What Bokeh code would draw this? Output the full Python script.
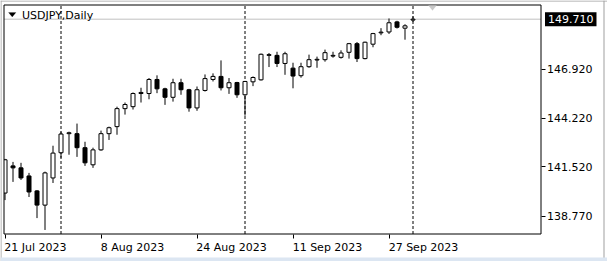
import pandas as pd
from bokeh.plotting import figure
from bokeh.models import (ColumnDataSource, Range1d, FixedTicker, Label, BoxAnnotation,
                          PrintfTickFormatter, PolyAnnotation, LinearAxis)
from bokeh.embed import file_html
from bokeh.resources import INLINE

# ---- data (USDJPY daily) ----
dates = pd.bdate_range("2023-07-21", "2023-10-02")
opens = [140.05, 141.56, 141.45, 141.00, 140.17, 139.38, 140.89, 142.29, 143.35, 143.35,
         142.57, 141.62, 142.45, 143.35, 143.74, 144.74, 144.85, 145.58, 145.58, 146.36,
         145.84, 145.37, 146.18, 145.79, 144.78, 145.75, 146.36, 146.53, 145.90, 146.19,
         145.51, 146.23, 146.34, 147.70, 147.70, 147.25, 146.99, 146.57, 147.07, 147.44,
         147.46, 147.66, 147.59, 147.87, 148.35, 147.52, 148.32, 148.95, 149.00, 149.56,
         149.21, 149.66]
highs = [141.95, 141.78, 141.73, 141.17, 140.22, 141.24, 142.68, 143.46, 143.46, 143.91,
         142.90, 142.57, 143.52, 143.74, 144.85, 145.08, 145.64, 145.90, 146.44, 146.59,
         145.90, 146.40, 146.40, 145.84, 145.97, 146.64, 146.70, 147.42, 146.44, 146.23,
         146.28, 146.53, 147.80, 147.83, 147.90, 147.90, 147.29, 147.29, 147.74, 147.63,
         148.02, 147.90, 147.98, 148.39, 148.44, 148.46, 148.95, 149.21, 149.75, 149.62,
         149.43, 149.86]
lows = [139.66, 140.67, 140.78, 139.83, 138.66, 138.00, 140.61, 142.01, 142.18, 142.06,
        141.56, 141.45, 142.40, 143.00, 143.29, 144.41, 144.69, 145.08, 145.26, 145.60,
        144.95, 145.13, 145.51, 144.57, 144.62, 145.69, 146.25, 145.75, 145.56, 145.34,
        144.35, 145.99, 146.30, 147.05, 147.05, 146.62, 145.87, 146.46, 147.01, 147.01,
        147.35, 147.57, 147.52, 147.52, 147.33, 147.48, 148.15, 148.82, 148.89, 149.19,
        148.57, 149.56]
closes = [141.90, 141.45, 140.89, 140.11, 139.38, 141.17, 142.27, 143.33, 143.40, 142.57,
          141.73, 142.45, 143.35, 143.68, 144.74, 144.97, 145.58, 145.64, 146.36, 145.84,
          145.37, 146.18, 145.79, 144.78, 145.79, 146.41, 146.53, 145.90, 146.18, 145.51,
          146.25, 146.47, 147.76, 147.74, 147.25, 147.79, 146.55, 147.07, 147.46, 147.48,
          147.85, 147.70, 147.83, 148.35, 147.52, 148.43, 148.91, 148.99, 149.51, 149.26,
          149.34, 149.71]
price_ticks = [138.77, 141.52, 144.22, 146.92]
bid = 149.71
symbol_title = "USDJPY,Daily"

# ---- geometry (pixel <-> data helpers for the window layout) ----
W, H = 607, 261
PX_PER_BAR = 8.0
X0 = -4.5 / PX_PER_BAR            # data x at canvas px 0
X1 = X0 + W / PX_PER_BAR
PX_PER_PRICE = 18.0
Y1 = 144.22 + 117.5 / PX_PER_PRICE  # data y at canvas px 0 (top)
Y0 = Y1 - H / PX_PER_PRICE


def px2x(px):
    return X0 + px / PX_PER_BAR


def x2px(x):
    return (x - X0) * PX_PER_BAR


def py2y(py):
    return Y1 - py / PX_PER_PRICE


BOX_L, BOX_R, BOX_T, BOX_B = 3.5, 540.5, 4.5, 233.5

idx = list(range(len(dates)))
src = ColumnDataSource(dict(
    x=idx, high=highs, low=lows,
    top=[max(o, c) for o, c in zip(opens, closes)],
    bottom=[min(o, c) for o, c in zip(opens, closes)],
    fill=["white" if c >= o else "black" for o, c in zip(opens, closes)],
))

p = figure(width=W, height=H, output_backend="svg", toolbar_location=None,
           x_range=Range1d(X0, X1), y_range=Range1d(Y0, Y1),
           x_axis_type=None, y_axis_type=None,
           min_border_left=0, min_border_right=0, min_border_top=0, min_border_bottom=0)
p.title.visible = False
p.background_fill_color = "white"
p.border_fill_color = "white"
p.outline_line_color = None
p.grid.visible = False
p.extra_x_ranges = {"px": Range1d(0, W)}

# month separators
sep = [i for i in range(1, len(dates)) if dates[i].month != dates[i - 1].month]
p.segment(x0=sep, x1=sep, y0=[py2y(BOX_B)] * len(sep), y1=[py2y(BOX_T)] * len(sep),
          line_color="black", line_width=1, line_dash="3 2", level="underlay")
# bid line
p.segment(x0=[px2x(BOX_L)], x1=[px2x(BOX_R)], y0=[bid], y1=[bid],
          line_color="#c0c0c0", line_width=1, level="underlay")

p.segment(x0="x", y0="high", x1="x", y1="low", source=src, line_color="black", line_width=1)
p.vbar(x="x", width=0.5, top="top", bottom="bottom", source=src,
       fill_color="fill", line_color="black", line_width=1)

# price axis (right)
ya = LinearAxis(fixed_location=px2x(BOX_R))
ya.ticker = FixedTicker(ticks=price_ticks)
ya.formatter = PrintfTickFormatter(format="%.3f")
ya.minor_tick_line_color = None
ya.major_tick_in = 0
ya.major_tick_out = 4
ya.major_label_standoff = 2
ya.major_label_text_font = "DejaVu Sans"
ya.major_label_text_font_size = "11px"
ya.major_label_text_color = "black"
ya.axis_line_color = None
p.add_layout(ya, "right")

# time axis (below): tick marks at the bars
xt = list(range(0, len(dates), 12))
xa = LinearAxis(fixed_location=py2y(BOX_B))
xa.ticker = FixedTicker(ticks=xt)
xa.major_label_overrides = {i: "" for i in xt}
xa.minor_tick_line_color = None
xa.major_tick_in = 0
xa.major_tick_out = 4
xa.axis_line_color = None
p.add_layout(xa, "below")

# time labels start at their tick, as in the terminal
CW = {"0": .636, "1": .636, "2": .636, "3": .636, "4": .636, "5": .636, "6": .636,
      "7": .636, "8": .636, "9": .636, " ": .318, "J": .295, "u": .634, "l": .278,
      "A": .684, "g": .635, "S": .635, "e": .615, "p": .635, "O": .787, "c": .550,
      "t": .392}
FS = 11
xlabels = [f"{dates[i].day} {dates[i].strftime('%b %Y')}" for i in xt]
centers = [round(x2px(i) - 0.5 + sum(CW.get(ch, .6) for ch in s) * FS / 2)
           for i, s in zip(xt, xlabels)]
xl = LinearAxis(x_range_name="px", fixed_location=py2y(BOX_B))
xl.ticker = FixedTicker(ticks=centers)
xl.major_label_overrides = dict(zip(centers, xlabels))
xl.minor_tick_line_color = None
xl.major_tick_line_color = None
xl.major_tick_in = 0
xl.major_tick_out = 0
xl.major_label_standoff = 7
xl.major_label_text_font = "DejaVu Sans"
xl.major_label_text_font_size = f"{FS}px"
xl.major_label_text_color = "black"
xl.axis_line_color = None
p.add_layout(xl, "below")

# mask left of the chart box, chart box outline
p.add_layout(BoxAnnotation(right=px2x(BOX_L), top=py2y(BOX_T), bottom=py2y(BOX_B),
                           fill_color="white", fill_alpha=1, line_color=None))
p.add_layout(BoxAnnotation(left=px2x(BOX_L), right=px2x(BOX_R), top=py2y(BOX_T),
                           bottom=py2y(BOX_B), fill_alpha=0, line_color="black",
                           line_width=1, line_alpha=1))

# bid price label on the price scale
p.add_layout(Label(x=px2x(544.5), y=bid, text=f"{bid:.3f}", text_color="white",
                   text_font="DejaVu Sans", text_font_size="11px", text_baseline="middle",
                   background_fill_color="black", padding=3))

# title
p.add_layout(PolyAnnotation(xs=[px2x(8), px2x(15.5), px2x(11.75)],
                            ys=[py2y(12), py2y(12), py2y(16.5)],
                            fill_color="black", fill_alpha=1, line_color="black", line_width=0.5))
p.add_layout(Label(x=px2x(21.5), y=py2y(14.5), text=symbol_title,
                   text_color="black", text_font="DejaVu Sans", text_font_size="11px",
                   text_baseline="middle"))
# chart shift marker
p.add_layout(PolyAnnotation(xs=[px2x(428), px2x(436), px2x(432)],
                            ys=[py2y(5), py2y(5), py2y(10)],
                            fill_color="#c8c8c8", fill_alpha=1, line_color="#c8c8c8", line_width=0.5))

# window chrome
p.add_layout(BoxAnnotation(top=py2y(0), bottom=py2y(1), fill_color="#a0a0a0",
                           fill_alpha=1, line_color=None))
p.add_layout(BoxAnnotation(left=px2x(0), right=px2x(1), fill_color="#a0a0a0",
                           fill_alpha=1, line_color=None))
p.add_layout(BoxAnnotation(left=px2x(603), right=px2x(604), fill_color="#a0a0a0",
                           fill_alpha=1, line_color=None))
p.add_layout(BoxAnnotation(top=py2y(257), bottom=py2y(261), fill_color="#dce6f2",
                           fill_alpha=1, line_color=None))

open("out.html", "w").write(file_html(p, INLINE))
